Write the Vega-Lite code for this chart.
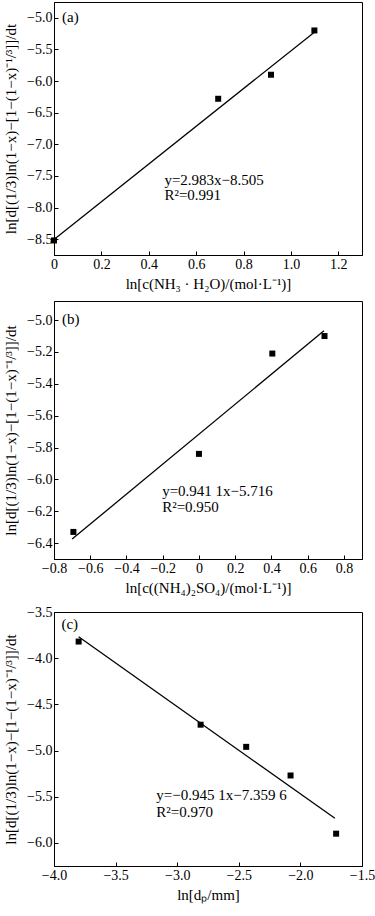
{
  "$schema": "https://vega.github.io/schema/vega-lite/v6.json",
  "padding": {"left": 3, "top": 1, "right": 2, "bottom": 5},
  "spacing": 8,
  "background": "white",
  "datasets": {
    "pa": [{"x": 0, "y": -8.52}, {"x": 0.693, "y": -6.28}, {"x": 0.916, "y": -5.9}, {"x": 1.099, "y": -5.2}],
    "la": [{"x": 0, "y": -8.505}, {"x": 1.099, "y": -5.227}],
    "ta": [{"x": 0.034, "y": -4.98, "t": "(a)"}, {"x": 0.466, "y": -7.56, "t": "y=2.983x−8.505"}, {"x": 0.466, "y": -7.8, "t": "R²=0.991"}],
    "pb": [{"x": -0.693, "y": -6.33}, {"x": 0, "y": -5.84}, {"x": 0.405, "y": -5.21}, {"x": 0.693, "y": -5.1}],
    "lb": [{"x": -0.7, "y": -6.375}, {"x": 0.69, "y": -5.067}],
    "tb": [{"x": -0.756, "y": -4.99, "t": "(b)"}, {"x": -0.203, "y": -6.075, "t": "y=0.941 1x−5.716"}, {"x": -0.203, "y": -6.175, "t": "R²=0.950"}],
    "pc": [{"x": -3.8, "y": -3.82}, {"x": -2.81, "y": -4.72}, {"x": -2.44, "y": -4.96}, {"x": -2.08, "y": -5.27}, {"x": -1.71, "y": -5.9}],
    "lc": [{"x": -3.8, "y": -3.768}, {"x": -1.72, "y": -5.734}],
    "tc": [{"x": -3.94, "y": -3.63, "t": "(c)"}, {"x": -3.17, "y": -5.48, "t": "y=−0.945 1x−7.359 6"}, {"x": -3.17, "y": -5.66, "t": "R²=0.970"}]
  },
  "vconcat": [
    {
      "width": 308, "height": 253,
      "encoding": {
        "x": {"field": "x", "type": "quantitative", "scale": {"domain": [0, 1.3], "nice": false, "zero": false},
              "axis": {"values": [0, 0.2, 0.4, 0.6, 0.8, 1.0, 1.2], "labelExpr": "datum.value == 0 ? '0' : format(datum.value, '.1f')", "title": "ln[c(NH₃ · H₂O)/(mol·L⁻¹)]"}},
        "y": {"field": "y", "type": "quantitative", "scale": {"domain": [-8.75, -4.75], "nice": false, "zero": false},
              "axis": {"values": [-8.5, -8.0, -7.5, -7.0, -6.5, -6.0, -5.5, -5.0], "labelExpr": "replace(format(datum.value, '.1f'), '-', '−')", "title": "ln[d[(1/3)ln(1−x)−[1−(1−x)⁻¹/³]]/dt"}}
      },
      "layer": [
        {"data": {"name": "la"}, "mark": {"type": "line", "color": "black", "strokeWidth": 1.3}},
        {"data": {"name": "pa"}, "mark": {"type": "square", "color": "black", "filled": true, "size": 36, "opacity": 1}},
        {"data": {"name": "ta"}, "mark": {"type": "text", "align": "left", "baseline": "middle", "fontSize": 15, "color": "black"},
         "encoding": {"text": {"field": "t"}}}
      ]
    },
    {
      "width": 308, "height": 258,
      "encoding": {
        "x": {"field": "x", "type": "quantitative", "scale": {"domain": [-0.8, 0.9], "nice": false, "zero": false},
              "axis": {"values": [-0.8, -0.6, -0.4, -0.2, 0, 0.2, 0.4, 0.6, 0.8], "labelExpr": "datum.value == 0 ? '0' : replace(format(datum.value, '.1f'), '-', '−')", "title": "ln[c((NH₄)₂SO₄)/(mol·L⁻¹)]"}},
        "y": {"field": "y", "type": "quantitative", "scale": {"domain": [-6.5, -4.88], "nice": false, "zero": false},
              "axis": {"values": [-6.4, -6.2, -6.0, -5.8, -5.6, -5.4, -5.2, -5.0], "labelExpr": "replace(format(datum.value, '.1f'), '-', '−')", "title": "ln[d[(1/3)ln(1−x)−[1−(1−x)⁻¹/³]]/dt"}}
      },
      "layer": [
        {"data": {"name": "lb"}, "mark": {"type": "line", "color": "black", "strokeWidth": 1.3}},
        {"data": {"name": "pb"}, "mark": {"type": "square", "color": "black", "filled": true, "size": 36, "opacity": 1}},
        {"data": {"name": "tb"}, "mark": {"type": "text", "align": "left", "baseline": "middle", "fontSize": 15, "color": "black"},
         "encoding": {"text": {"field": "t"}}}
      ]
    },
    {
      "width": 308, "height": 254,
      "encoding": {
        "x": {"field": "x", "type": "quantitative", "scale": {"domain": [-4.0, -1.5], "nice": false, "zero": false},
              "axis": {"values": [-4.0, -3.5, -3.0, -2.5, -2.0, -1.5], "labelExpr": "replace(format(datum.value, '.1f'), '-', '−')", "title": "ln[dₚ/mm]"}},
        "y": {"field": "y", "type": "quantitative", "scale": {"domain": [-6.25, -3.5], "nice": false, "zero": false},
              "axis": {"values": [-6.0, -5.5, -5.0, -4.5, -4.0, -3.5], "labelExpr": "replace(format(datum.value, '.1f'), '-', '−')", "title": "ln[d[(1/3)ln(1−x)−[1−(1−x)⁻¹/³]]/dt"}}
      },
      "layer": [
        {"data": {"name": "lc"}, "mark": {"type": "line", "color": "black", "strokeWidth": 1.3}},
        {"data": {"name": "pc"}, "mark": {"type": "square", "color": "black", "filled": true, "size": 36, "opacity": 1}},
        {"data": {"name": "tc"}, "mark": {"type": "text", "align": "left", "baseline": "middle", "fontSize": 15, "color": "black"},
         "encoding": {"text": {"field": "t"}}}
      ]
    }
  ],
  "config": {
    "font": "Liberation Serif",
    "view": {"stroke": "black", "strokeWidth": 1},
    "text": {"font": "Liberation Serif"},
    "axis": {
      "grid": false, "domainColor": "black", "domainWidth": 1, "tickColor": "black", "tickSize": -4,
      "labelFont": "Liberation Serif", "labelFontSize": 14, "labelColor": "black", "labelPadding": 6,
      "labelOverlap": false, "labelFlush": false, "labelBound": false,
      "titleFont": "Liberation Serif", "titleFontSize": 15, "titleFontWeight": "normal", "titleColor": "black"
    },
    "axisY": {"titlePadding": 8},
    "axisX": {"titlePadding": 5}
  }
}
